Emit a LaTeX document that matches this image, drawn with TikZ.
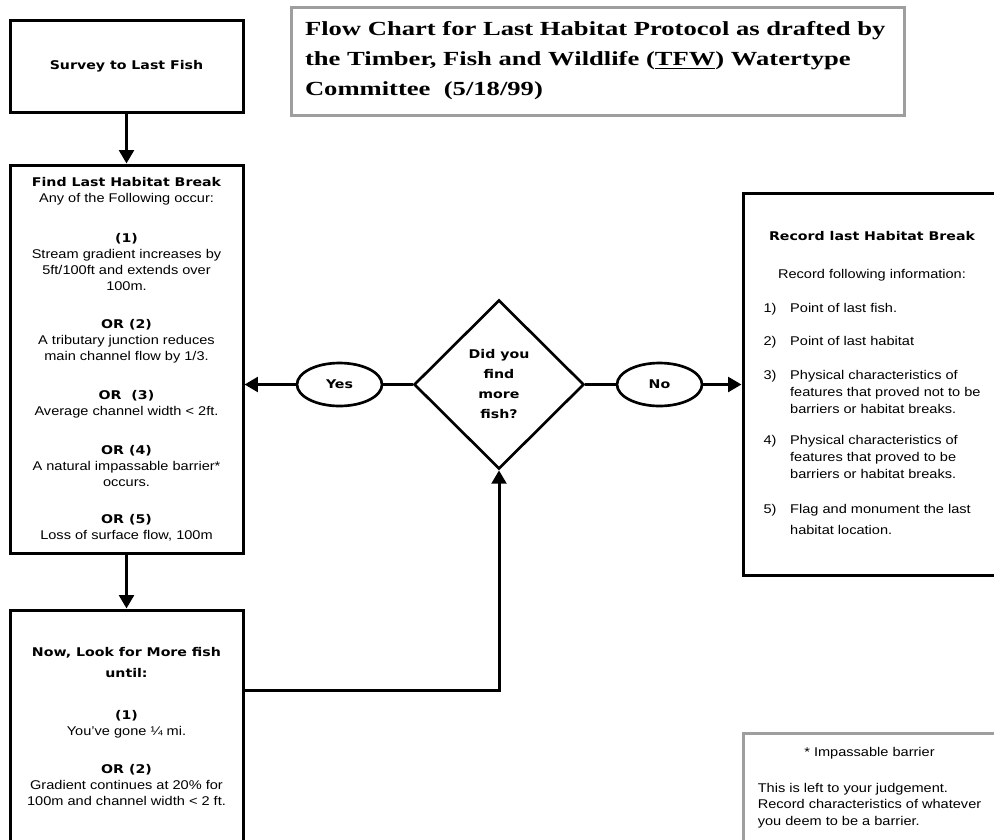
\documentclass[tikz,border=0pt]{standalone}
\usepackage{fontspec}
\setmainfont{Liberation Sans}[FakeStretch=1.15]
\newfontfamily\headfam{DejaVu Sans}[FakeStretch=1.18]
\newfontfamily\titlefam{Liberation Serif}[FakeStretch=1.33]
\newcommand{\hd}{\headfam\bfseries\fontsize{9}{12}\selectfont}
\usetikzlibrary{shapes.geometric,arrows.meta}

\begin{document}
\begin{tikzpicture}[x=0.75pt, y=-0.75pt, >={Triangle[length=10pt,width=11pt]},
  font=\fontsize{9.5}{12}\selectfont,
  box/.style={draw, line width=2.25pt, minimum width=174.75pt, align=center, inner sep=0pt},
  greybox/.style={draw=black!38, line width=2.25pt, inner sep=0pt},
  answer/.style={draw, ellipse, line width=2pt, minimum width=63.75pt, minimum height=32.25pt, inner sep=0pt, font=\hd},
  link/.style={line width=2.25pt},
  flow/.style={link, ->}]
  % page 994 x 839 px, 1 px = 0.75 pt
  \path[use as bounding box, fill=white] (0,0) rectangle (994,839);

  % ---------------- title ----------------
  \node[greybox, minimum width=459.75pt, minimum height=81pt, text width=438.75pt, inner xsep=10.5pt,
    align=left, font=\titlefam\bfseries\fontsize{15}{22.5}\selectfont] (title) at (597.5,61)
    {Flow Chart for Last Habitat Protocol as drafted by\\
     the Timber, Fish and Wildlife (\underline{TFW}) Watertype\\
     Committee\ \ (5/18/99)};

  % ---------------- left column ----------------
  \node[box, minimum height=69pt, font=\hd] (survey) at (126.5,66) {Survey to Last Fish};

  \node[box, minimum height=291pt] (find) at (126.5,359) {%
    {\hd Find Last Habitat Break}\\
    Any of the Following occur:\\[18pt]
    {\hd (1)}\\
    Stream gradient increases by\\
    5ft/100ft and extends over\\
    100m.\\[17pt]
    {\hd OR (2)}\\
    A tributary junction reduces\\
    main channel flow by 1/3.\\[17pt]
    {\hd OR\ \ (3)}\\
    Average channel width < 2ft.\\[17pt]
    {\hd OR (4)}\\
    A natural impassable barrier*\\
    occurs.\\[16pt]
    {\hd OR (5)}\\
    Loss of surface flow, 100m};

  \node[box, minimum height=174pt] (now) at (126.5,726) {%
    {\hd Now, Look for More fish}\\[3.75pt]
    {\hd until:}\\[19.5pt]
    {\hd (1)}\\
    You've gone ¼ mi.\\[16.5pt]
    {\hd OR (2)}\\
    Gradient continues at 20\% for\\
    100m and channel width < 2 ft.};

  % ---------------- decision ----------------
  \node[draw, diamond, line width=2pt, minimum width=127.5pt, minimum height=126.75pt, inner sep=0pt,
    align=center, font=\hd\fontsize{9}{15}\selectfont] (ask) at (499,384.5) {Did you\\find\\more\\fish?};
  \node[answer] (yes) at (339.5,384.5) {Yes};
  \node[answer] (no) at (659.5,384.5) {No};

  % ---------------- right column ----------------
  \node[box, minimum width=193.5pt, minimum height=286.5pt, font=\fontsize{9.5}{12.75}\selectfont] (record) at (872,384) {%
    \begin{tabular}{@{}p{20pt}@{}l@{}}
      \multicolumn{2}{@{}c@{}}{\hd Record last Habitat Break}\\[15.75pt]
      \multicolumn{2}{@{}c@{}}{Record following information:}\\[12.75pt]
      1) & Point of last fish.\\[12pt]
      2) & Point of last habitat\\[12.75pt]
      3) & Physical characteristics of\\
         & features that proved not to be\\
         & barriers or habitat breaks.\\[10.5pt]
      4) & Physical characteristics of\\
         & features that proved to be\\
         & barriers or habitat breaks.\\[13.5pt]
      5) & Flag and monument the last\\[3pt]
         & habitat location.
    \end{tabular}};

  \node[greybox, minimum width=189.75pt, minimum height=81.75pt, font=\fontsize{9.5}{12.4}\selectfont] (note) at (869.5,787.5) {%
    \begin{tabular}{@{}l@{}}
      \multicolumn{1}{@{}c@{}}{* Impassable barrier}\\[14.6pt]
      This is left to your judgement.\\
      Record characteristics of whatever\\
      you deem to be a barrier.
    \end{tabular}};

  % ---------------- connectors ----------------
  \draw[flow] (survey) -- (find);
  \draw[flow] (find) -- (now);
  \draw[flow] ([yshift=27pt]now.east) -| (ask.south);
  \draw[link] (ask.west) -- (yes.east);
  \draw[flow] (yes.west) -- (yes.west -| find.east);
  \draw[link] (ask.east) -- (no.west);
  \draw[flow] (no.east) -- (no.east -| record.west);
\end{tikzpicture}
\end{document}
